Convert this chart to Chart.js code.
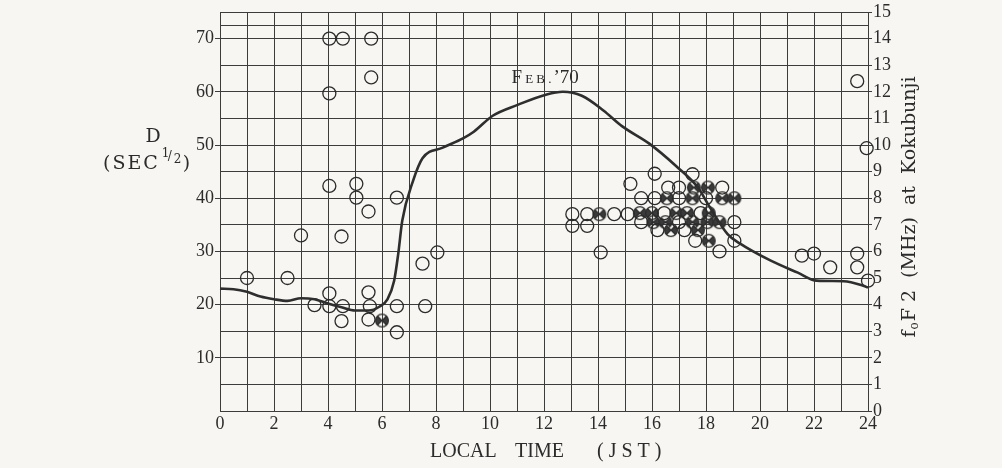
<!DOCTYPE html>
<html lang="en">
<head>
  <meta charset="UTF-8" />
  <title>Whistler dispersion and foF2 - Feb. '70</title>
  <script src="https://cdn.jsdelivr.net/npm/chart.js"></script>
  <style>
    html, body {
      margin: 0;
      padding: 0;
      background: #f7f6f2;
    }
    #wrap {
      width: 1002px;
      height: 468px;
    }
  </style>
</head>
<body>
  <div id="wrap"><canvas id="dispChart" width="1002" height="468"></canvas></div>
  <script>
    // foF2 at Kokubunji, monthly median curve (MHz) vs local time
    const curveHours = [0, 0.5, 1, 1.5, 2, 2.5, 3, 3.5, 4, 4.5, 5, 5.5, 5.9, 6.2, 6.45, 6.6, 6.75,
      7.15, 7.5, 8.25, 9.0, 9.4, 10.1, 11.0, 12.1, 12.7, 13.4, 14.2, 14.9, 15.9, 16.9, 17.7,
      18.15, 18.8, 19.25, 20.4, 21.4, 22.1, 23.1, 23.8, 24];
    const curveFoF2 = [4.6, 4.58, 4.48, 4.3, 4.2, 4.14, 4.24, 4.2, 4.04, 3.9, 3.78, 3.78, 3.92, 4.2, 4.9, 5.9, 7.15,
      8.65, 9.5, 9.9, 10.25, 10.5, 11.1, 11.5, 11.9, 12.0, 11.85, 11.3, 10.7, 10.05, 9.2, 8.4,
      7.65, 6.65, 6.3, 5.65, 5.2, 4.9, 4.88, 4.72, 4.64];

    // whistler dispersion D (sec^1/2), plain circles
    const openHours = [1.0, 2.5, 3.0, 3.5, 4.05, 4.55, 5.6, 5.6, 4.05, 4.05, 5.05, 5.05, 5.5, 6.55, 4.5,
      4.05, 4.05, 4.55, 4.5, 5.5, 5.55, 5.5, 6.55, 6.55, 7.5, 8.05, 7.6,
      13.05, 13.6, 14.6, 15.1, 13.05, 13.6, 14.1, 15.2, 16.1, 17.5, 16.6, 17.0, 18.6,
      15.6, 16.1, 17.0, 18.0, 16.45, 17.8, 15.6, 17.0, 19.05, 16.2, 17.2, 17.6, 19.05, 18.5,
      21.55, 22.0, 22.6, 23.6, 23.6, 24.0, 23.6, 23.95];
    const openD = [25, 25, 33, 19.9, 70, 70, 70, 62.7, 59.7, 42.3, 42.7, 40.1, 37.5, 40.1, 32.8,
      22.1, 19.7, 19.7, 16.9, 22.3, 19.7, 17.2, 14.8, 19.7, 27.7, 29.8, 19.7,
      37, 37, 37, 37, 34.8, 34.8, 29.8, 42.7, 44.6, 44.5, 42, 42, 42,
      40, 40, 40, 40, 37.2, 37.2, 35.5, 35.5, 35.5, 34, 34, 32, 32, 30,
      29.2, 29.6, 27, 29.6, 27, 24.5, 62, 49.4];

    // crossed, half-shaded circles
    const crossHours = [6.0, 14.05, 15.55, 16.0, 16.9, 17.3, 18.1, 17.55, 18.07, 16.55, 17.5, 18.6, 19.05,
      16.05, 16.5, 17.5, 18.05, 18.5, 16.7, 17.7, 18.1];
    const crossD = [17, 37, 37.2, 37.2, 37.2, 37.2, 37.2, 42, 42, 40, 40, 40, 40,
      35.5, 35.5, 35.5, 35.5, 35.5, 34, 34, 32];

    const hourLabels = [0, 2, 4, 6, 8, 10, 12, 14, 16, 18, 20, 22, 24];
    const dLabels = [10, 20, 30, 40, 50, 60, 70];
    const mhzLabels = [0, 1, 2, 3, 4, 5, 6, 7, 8, 9, 10, 11, 12, 13, 14, 15];

    const INK = '#2b2b2b';
    const GRID = '#3c3c3c';
    const SERIF = '"Liberation Serif", "DejaVu Serif", serif';
    const WIDE = '"DejaVu Serif", "Liberation Serif", serif';

    function crossedMark() {
      const c = document.createElement('canvas');
      c.width = 16;
      c.height = 16;
      const g = c.getContext('2d');
      const cx = 8, cy = 8, r = 6.4;
      g.fillStyle = '#3a3a3a';
      [[-Math.PI / 4, Math.PI / 4], [3 * Math.PI / 4, 5 * Math.PI / 4]].forEach(([a0, a1]) => {
        g.beginPath();
        g.moveTo(cx, cy);
        g.arc(cx, cy, r, a0, a1);
        g.closePath();
        g.fill();
      });
      g.strokeStyle = INK;
      g.lineWidth = 1.2;
      g.beginPath();
      g.arc(cx, cy, r, 0, Math.PI * 2);
      g.stroke();
      const d = r * Math.SQRT1_2;
      g.beginPath();
      g.moveTo(cx - d, cy - d); g.lineTo(cx + d, cy + d);
      g.moveTo(cx + d, cy - d); g.lineTo(cx - d, cy + d);
      g.stroke();
      return c;
    }

    const toPoints = (xs, ys) => xs.map((x, i) => ({ x: x, y: ys[i] }));

    // axis titles and the curve label, drawn by hand for the sub/superscripts
    const annotations = {
      id: 'annotations',
      afterDraw(chart) {
        const { ctx, chartArea: a, scales } = chart;
        ctx.save();
        ctx.fillStyle = INK;
        ctx.textBaseline = 'middle';

        // left: D (SEC^1/2)
        ctx.font = '19px ' + WIDE;
        ctx.textAlign = 'center';
        ctx.fillText('D', a.left - 67, 137);
        ctx.textAlign = 'left';
        ctx.letterSpacing = '2px';
        let sx = a.left - 117;
        ctx.fillText('(SEC', sx, 164);
        sx += ctx.measureText('(SEC').width + 2;
        ctx.letterSpacing = '0px';
        ctx.font = '12px ' + WIDE;
        ctx.fillText('1', sx, 154);
        ctx.fillText('/', sx + 6, 157);
        ctx.fillText('2', sx + 12, 160);
        ctx.font = '19px ' + WIDE;
        ctx.fillText(')', sx + 21, 164);

        // bottom: LOCAL TIME (JST)
        ctx.font = '20px ' + SERIF;
        const ty = a.bottom + 41;
        ctx.fillText('LOCAL', a.left + 210, ty);
        ctx.fillText('TIME', a.left + 295, ty);
        ctx.fillText('( J S T )', a.left + 377, ty);

        // curve label
        const lx = scales.x.getPixelForValue(10.8);
        const ly = scales.y.getPixelForValue(61.6);
        ctx.textBaseline = 'alphabetic';
        ctx.font = '19px ' + SERIF;
        ctx.fillText('F', lx, ly);
        let cx = lx + ctx.measureText('F').width + 3;
        ctx.font = '13px ' + SERIF;
        ctx.fillText('E B .', cx, ly);
        cx += ctx.measureText('E B .').width + 2;
        ctx.font = '19px ' + SERIF;
        ctx.fillText('\u201970', cx, ly);

        // right: foF2 (MHz) at Kokubunji, reading upward
        ctx.translate(a.right + 40, (a.top + a.bottom) / 2 - 5);
        ctx.rotate(-Math.PI / 2);
        const big = '19px ' + WIDE, small = '12px ' + WIDE;
        const parts = [['f', big, 0], ['o', small, 3], ['F 2  (MHz)  at  Kokubunji', big, 0]];
        let w = 0;
        parts.forEach(([t, f]) => { ctx.font = f; w += ctx.measureText(t).width + 1; });
        let px = -w / 2;
        parts.forEach(([t, f, dy]) => {
          ctx.font = f;
          ctx.fillText(t, px, 7 + dy);
          px += ctx.measureText(t).width + 1;
        });
        ctx.restore();
      }
    };

    window.onload = () => {
      const ctx = document.getElementById('dispChart').getContext('2d');
      new Chart(ctx, {
        type: 'scatter',
        data: {
          datasets: [
            {
              label: 'foF2',
              data: toPoints(curveHours, curveFoF2),
              yAxisID: 'y2',
              showLine: true,
              borderColor: '#2e2e2e',
              borderWidth: 2.6,
              pointRadius: 0,
              cubicInterpolationMode: 'monotone',
              clip: false
            },
            {
              label: 'D',
              data: toPoints(openHours, openD),
              yAxisID: 'y',
              pointStyle: 'circle',
              pointRadius: 6.5,
              borderWidth: 1.3,
              borderColor: INK,
              backgroundColor: 'rgba(0,0,0,0)',
              clip: false
            },
            {
              label: 'D (crossed)',
              data: toPoints(crossHours, crossD),
              yAxisID: 'y',
              pointStyle: crossedMark(),
              pointRadius: 6.5,
              clip: false
            }
          ]
        },
        options: {
          responsive: false,
          animation: false,
          layout: { padding: { top: 12, left: 0, right: 0, bottom: 0 } },
          plugins: {
            legend: { display: false },
            tooltip: { enabled: false }
          },
          scales: {
            x: {
              type: 'linear',
              min: 0,
              max: 24,
              afterBuildTicks: s => { s.ticks = Array.from({ length: 25 }, (_, i) => ({ value: i })); },
              afterFit: s => { s.height = 57; },
              ticks: {
                autoSkip: false,
                maxRotation: 0,
                padding: 2,
                color: INK,
                font: { family: SERIF, size: 18 },
                callback: v => hourLabels.includes(v) ? String(v) : ''
              },
              grid: { color: GRID, lineWidth: 1, tickLength: 0 },
              border: { color: GRID, width: 1 }
            },
            y: {
              position: 'left',
              min: 0,
              max: 75,
              afterBuildTicks: s => {
                const t = [];
                for (let v = 0; v <= 75; v += 5) t.push(v);
                t.splice(t.length - 1, 0, 72.5);
                s.ticks = t.map(v => ({ value: v }));
              },
              afterFit: s => { s.width = 220; },
              ticks: {
                autoSkip: false,
                padding: 1,
                color: INK,
                font: { family: SERIF, size: 18 },
                callback: v => dLabels.includes(v) ? String(v) : ''
              },
              grid: {
                color: GRID,
                lineWidth: 1,
                tickLength: 5,
                tickColor: c => (c.tick && dLabels.includes(c.tick.value)) ? GRID : 'rgba(0,0,0,0)'
              },
              border: { color: GRID, width: 1 }
            },
            y2: {
              position: 'right',
              min: 0,
              max: 15,
              afterBuildTicks: s => { s.ticks = mhzLabels.map(v => ({ value: v })); },
              afterFit: s => { s.width = 134; },
              ticks: {
                autoSkip: false,
                padding: 1,
                color: INK,
                font: { family: SERIF, size: 18 },
                callback: v => String(v)
              },
              grid: { drawOnChartArea: false, color: GRID, tickLength: 4 },
              border: { color: GRID, width: 1 }
            }
          }
        },
        plugins: [annotations]
      });
    };
  </script>
</body>
</html>
